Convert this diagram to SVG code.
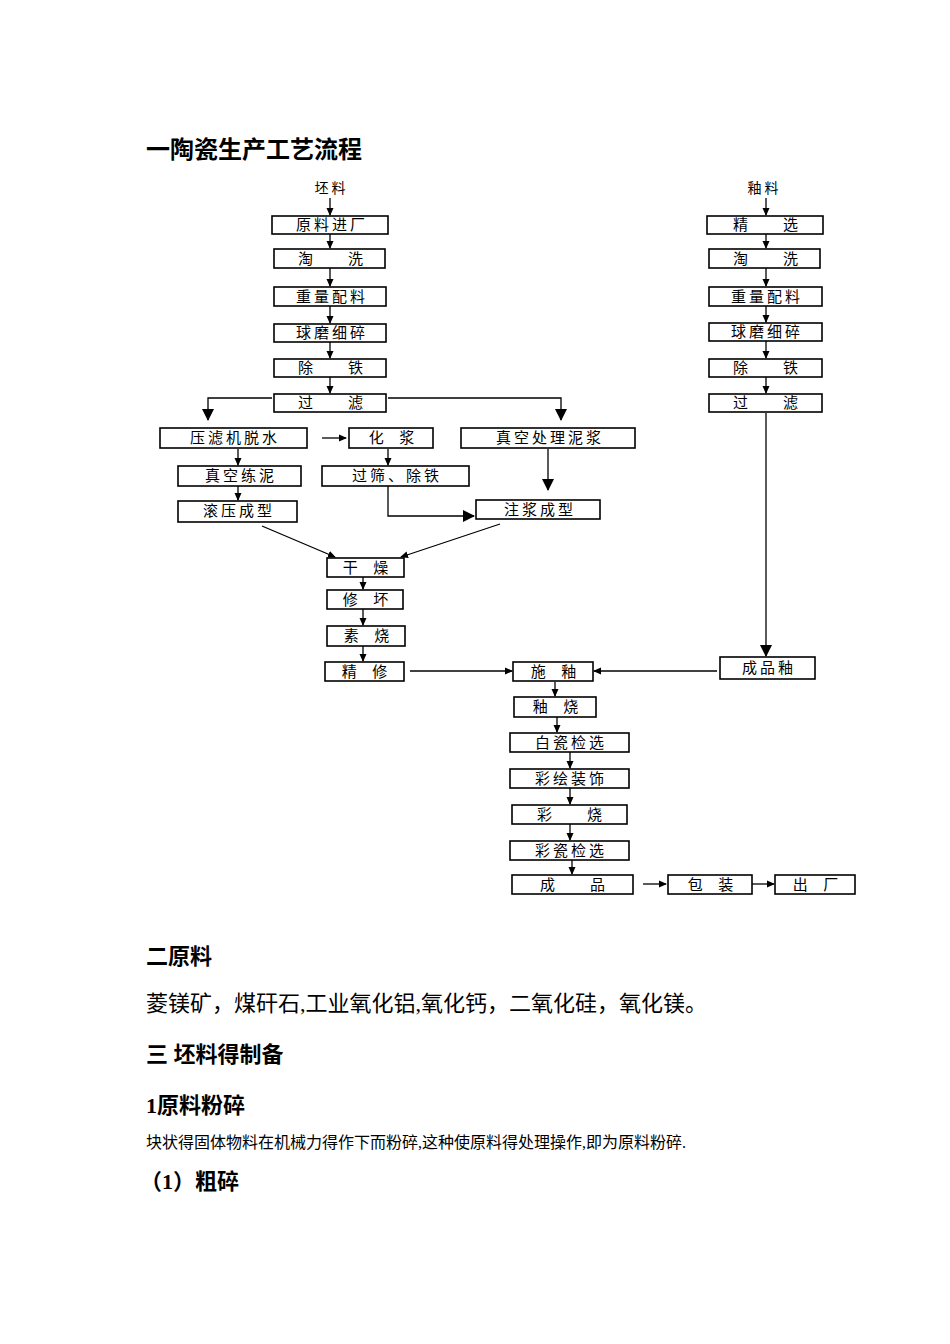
<svg xmlns="http://www.w3.org/2000/svg" width="950" height="1344" viewBox="0 0 950 1344">
<style>
.b rect{fill:#fff;stroke:#000;stroke-width:1.6}
.b text{font-family:"Noto Sans CJK SC",sans-serif;font-size:15px;text-anchor:middle;white-space:pre;letter-spacing:3px}
.c line,.c polyline{stroke:#000;stroke-width:1.3;fill:none}
.h{font-family:"Liberation Serif","Noto Sans CJK SC",serif;font-weight:bold}
.p{font-family:"Liberation Serif","Noto Sans CJK SC",serif}
</style>
<defs><marker id="a" markerWidth="8" markerHeight="8" refX="7" refY="4" orient="auto" markerUnits="userSpaceOnUse"><path d="M0,0.5L8,4L0,7.5z" fill="#000"/></marker>
<marker id="A" markerWidth="12" markerHeight="12" refX="11" refY="6" orient="auto" markerUnits="userSpaceOnUse"><path d="M0,0L12,6L0,12z" fill="#000"/></marker></defs>
<rect width="950" height="1344" fill="#fff"/>
<text class="h" x="146" y="158" font-size="24">一陶瓷生产工艺流程</text>
<text x="330" y="193" font-family="Noto Sans CJK SC,sans-serif" font-size="14" text-anchor="middle">坯  料</text>
<text x="763" y="193" font-family="Noto Sans CJK SC,sans-serif" font-size="14" text-anchor="middle">釉  料</text>
<g class="c">
<line x1="330" y1="198" x2="330" y2="215" marker-end="url(#a)"/>
<line x1="330" y1="234" x2="330" y2="248" marker-end="url(#a)"/>
<line x1="330" y1="268" x2="330" y2="286" marker-end="url(#a)"/>
<line x1="330" y1="306" x2="330" y2="323" marker-end="url(#a)"/>
<line x1="330" y1="342" x2="330" y2="358" marker-end="url(#a)"/>
<line x1="330" y1="377" x2="330" y2="393" marker-end="url(#a)"/>
<polyline points="272,398 208,398 208,420" marker-end="url(#A)"/>
<polyline points="388,398 561,398 561,420" marker-end="url(#A)"/>
<line x1="322" y1="438" x2="346" y2="438" marker-end="url(#a)"/>
<line x1="238" y1="449" x2="238" y2="465" marker-end="url(#a)"/>
<line x1="238" y1="486" x2="238" y2="500" marker-end="url(#a)"/>
<line x1="388" y1="449" x2="388" y2="465" marker-end="url(#a)"/>
<polyline points="388,486 388,516 474,516" marker-end="url(#A)"/>
<line x1="548" y1="449" x2="548" y2="490" marker-end="url(#A)"/>
<line x1="262" y1="526" x2="335" y2="557" marker-end="url(#a)"/>
<line x1="500" y1="524" x2="401" y2="557" marker-end="url(#a)"/>
<line x1="363" y1="577" x2="363" y2="589" marker-end="url(#a)"/>
<line x1="363" y1="609" x2="363" y2="625" marker-end="url(#a)"/>
<line x1="363" y1="646" x2="363" y2="661" marker-end="url(#a)"/>
<line x1="410" y1="671" x2="512" y2="671" marker-end="url(#a)"/>
<line x1="717" y1="671" x2="594" y2="671" marker-end="url(#a)"/>
<line x1="766" y1="413" x2="766" y2="656" marker-end="url(#A)"/>
<line x1="555" y1="682" x2="555" y2="696" marker-end="url(#a)"/>
<line x1="557" y1="717" x2="557" y2="732" marker-end="url(#a)"/>
<line x1="570" y1="752" x2="570" y2="768" marker-end="url(#a)"/>
<line x1="570" y1="788" x2="570" y2="804" marker-end="url(#a)"/>
<line x1="570" y1="824" x2="570" y2="840" marker-end="url(#a)"/>
<line x1="572" y1="860" x2="572" y2="874" marker-end="url(#a)"/>
<line x1="643" y1="884" x2="666" y2="884" marker-end="url(#a)"/>
<line x1="752" y1="884" x2="774" y2="884" marker-end="url(#a)"/>
<line x1="766" y1="198" x2="766" y2="215" marker-end="url(#a)"/>
<line x1="766" y1="234" x2="766" y2="248" marker-end="url(#a)"/>
<line x1="766" y1="268" x2="766" y2="286" marker-end="url(#a)"/>
<line x1="766" y1="306" x2="766" y2="322" marker-end="url(#a)"/>
<line x1="766" y1="341" x2="766" y2="358" marker-end="url(#a)"/>
<line x1="766" y1="377" x2="766" y2="393" marker-end="url(#a)"/>
</g>
<g class="b">
<g id="n1"><rect x="272" y="216" width="116" height="18"/><text x="332" y="230">原料进厂</text></g>
<g id="n2"><rect x="274" y="249" width="111" height="19"/><text x="332" y="264">淘     洗</text></g>
<g id="n3"><rect x="274" y="287" width="112" height="19"/><text x="332" y="302">重量配料</text></g>
<g id="n4"><rect x="274" y="324" width="112" height="18"/><text x="332" y="338">球磨细碎</text></g>
<g id="n5"><rect x="274" y="359" width="112" height="18"/><text x="332" y="373">除     铁</text></g>
<g id="n6"><rect x="274" y="394" width="112" height="18"/><text x="332" y="408">过     滤</text></g>
<g id="n7"><rect x="160" y="428" width="147" height="20"/><text x="235" y="443">压滤机脱水</text></g>
<g id="n8"><rect x="349" y="428" width="84" height="20"/><text x="393" y="443">化  浆</text></g>
<g id="n9"><rect x="461" y="428" width="174" height="20"/><text x="550" y="443">真空处理泥浆</text></g>
<g id="n10"><rect x="178" y="466" width="123" height="20"/><text x="241" y="481">真空练泥</text></g>
<g id="n11"><rect x="322" y="466" width="147" height="20"/><text x="397" y="481">过筛、除铁</text></g>
<g id="n12"><rect x="178" y="501" width="119" height="21"/><text x="239" y="516">滚压成型</text></g>
<g id="n13"><rect x="476" y="500" width="124" height="19"/><text x="540" y="515">注浆成型</text></g>
<g id="n14"><rect x="327" y="558" width="77" height="19"/><text x="367" y="573">干  燥</text></g>
<g id="n15"><rect x="327" y="590" width="76" height="19"/><text x="367" y="605">修  坏</text></g>
<g id="n16"><rect x="327" y="626" width="78" height="20"/><text x="368" y="641">素  烧</text></g>
<g id="n17"><rect x="325" y="662" width="79" height="19"/><text x="366" y="677">精  修</text></g>
<g id="n18"><rect x="513" y="662" width="80" height="19"/><text x="555" y="677">施  釉</text></g>
<g id="n19"><rect x="720" y="657" width="95" height="22"/><text x="769" y="673">成品釉</text></g>
<g id="n20"><rect x="514" y="697" width="82" height="20"/><text x="557" y="712">釉  烧</text></g>
<g id="n21"><rect x="510" y="733" width="119" height="19"/><text x="571" y="748">白瓷检选</text></g>
<g id="n22"><rect x="510" y="769" width="119" height="19"/><text x="571" y="784">彩绘装饰</text></g>
<g id="n23"><rect x="512" y="805" width="115" height="19"/><text x="571" y="820">彩     烧</text></g>
<g id="n24"><rect x="510" y="841" width="119" height="19"/><text x="571" y="856">彩瓷检选</text></g>
<g id="n25"><rect x="512" y="875" width="121" height="19"/><text x="574" y="890">成     品</text></g>
<g id="n26"><rect x="668" y="875" width="84" height="19"/><text x="712" y="890">包  装</text></g>
<g id="n27"><rect x="775" y="875" width="80" height="19"/><text x="817" y="890">出  厂</text></g>
<g id="m1"><rect x="707" y="216" width="116" height="18"/><text x="767" y="230">精     选</text></g>
<g id="m2"><rect x="709" y="249" width="111" height="19"/><text x="767" y="264">淘     洗</text></g>
<g id="m3"><rect x="709" y="287" width="113" height="19"/><text x="767" y="302">重量配料</text></g>
<g id="m4"><rect x="709" y="323" width="113" height="18"/><text x="767" y="337">球磨细碎</text></g>
<g id="m5"><rect x="709" y="359" width="113" height="18"/><text x="767" y="373">除     铁</text></g>
<g id="m6"><rect x="709" y="394" width="113" height="18"/><text x="767" y="408">过     滤</text></g>
</g>
<text class="h" x="146" y="964" font-size="22">二原料</text>
<text class="p" x="146" y="1011" font-size="22">菱镁矿，煤矸石,工业氧化铝,氧化钙，二氧化硅，氧化镁。</text>
<text class="h" x="146" y="1062" font-size="22">三 坯料得制备</text>
<text class="h" x="146" y="1113" font-size="22">1原料粉碎</text>
<text class="p" x="146" y="1148" font-size="16">块状得固体物料在机械力得作下而粉碎,这种使原料得处理操作,即为原料粉碎.</text>
<text class="h" x="140" y="1189" font-size="22">（1）粗碎</text>
</svg>
